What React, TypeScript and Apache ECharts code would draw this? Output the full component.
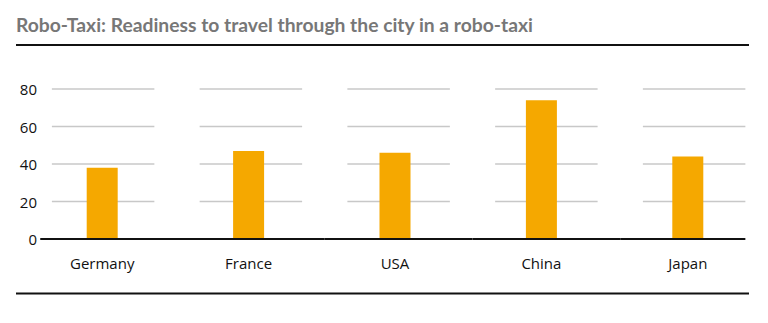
import React, { useEffect, useRef } from "react";
import * as echarts from "echarts";

const titleText = "Robo-Taxi: Readiness to travel through the city in a robo-taxi";
const categories = ["Germany", "France", "USA", "China", "Japan"];
const values = [38, 47, 46, 74, 44];
const yTicks = [0, 20, 40, 60, 80];

export default function App() {
  const ref = useRef<HTMLDivElement>(null);
  useEffect(() => {
    document.body.style.margin = "0";
    const chart = echarts.init(ref.current!, null, { renderer: "svg" });
    const gridData: number[][] = [];
    categories.forEach((_, i) => {
      yTicks.forEach((v) => {
        if (v > 0) gridData.push([i, v]);
      });
    });
    const zeroData = categories.map((_, i) => [i, 0]);
    const last = categories.length - 1;
    chart.setOption({
      animation: false,
      title: {
        text: titleText,
        left: 16,
        top: 15,
        padding: 0,
        textStyle: { fontFamily: "Lato", fontWeight: "bold", fontSize: 19.3, color: "#777777" },
      },
      graphic: [
        { type: "line", shape: { x1: 16, y1: 45, x2: 749, y2: 45 }, style: { stroke: "#111", lineWidth: 2 } },
        { type: "line", shape: { x1: 16, y1: 293.5, x2: 749, y2: 293.5 }, style: { stroke: "#111", lineWidth: 2 } },
      ],
      grid: [
        { left: 29, width: 732, top: 89, height: 150 },
        { left: 29.25, width: 742.5, top: 89, height: 150 },
      ],
      xAxis: [
        {
          type: "category",
          gridIndex: 0,
          data: categories,
          axisLine: { show: false },
          axisTick: { show: false },
          axisLabel: { fontFamily: "Open Sans", fontSize: 15, color: "#111", margin: 16 },
        },
        { type: "category", gridIndex: 1, data: categories, show: false },
      ],
      yAxis: [
        {
          type: "value",
          gridIndex: 0,
          min: 0,
          max: 80,
          interval: 20,
          offset: -16,
          splitLine: { show: false },
          axisLine: { show: false },
          axisTick: { show: false },
          axisLabel: { fontFamily: "Open Sans", fontSize: 15, color: "#111", margin: 8 },
        },
        { type: "value", gridIndex: 1, min: 0, max: 80, interval: 20, show: false },
      ],
      series: [
        {
          type: "custom",
          xAxisIndex: 1,
          yAxisIndex: 1,
          z: 1,
          silent: true,
          data: gridData,
          renderItem: (params: any, api: any) => {
            const p = api.coord([api.value(0), api.value(1)]);
            const bw = api.size([1, 0])[0];
            const half = bw * 0.3468;
            return {
              type: "line",
              shape: { x1: p[0] - half, y1: p[1], x2: p[0] + half, y2: p[1] },
              style: { stroke: "#c8c8c8", lineWidth: 1.5 },
            };
          },
        },
        {
          type: "bar",
          xAxisIndex: 0,
          yAxisIndex: 0,
          z: 2,
          data: values,
          barWidth: 31,
          itemStyle: { color: "#F5A800" },
        },
        {
          type: "custom",
          xAxisIndex: 1,
          yAxisIndex: 1,
          z: 3,
          silent: true,
          data: zeroData,
          renderItem: (params: any, api: any) => {
            const i = api.value(0);
            const p = api.coord([i, api.value(1)]);
            const bw = api.size([1, 0])[0];
            const half = bw * 0.3468;
            const x1 = i === 0 ? p[0] - bw / 2 + 11 : p[0] - bw / 2;
            const x2 = i === last ? p[0] + half : p[0] + bw / 2;
            return {
              type: "line",
              shape: { x1, y1: p[1], x2, y2: p[1] },
              style: { stroke: "#111", lineWidth: 2 },
            };
          },
        },
      ],
    });
    return () => chart.dispose();
  }, []);
  return <div ref={ref} style={{ width: 768, height: 323 }} />;
}
